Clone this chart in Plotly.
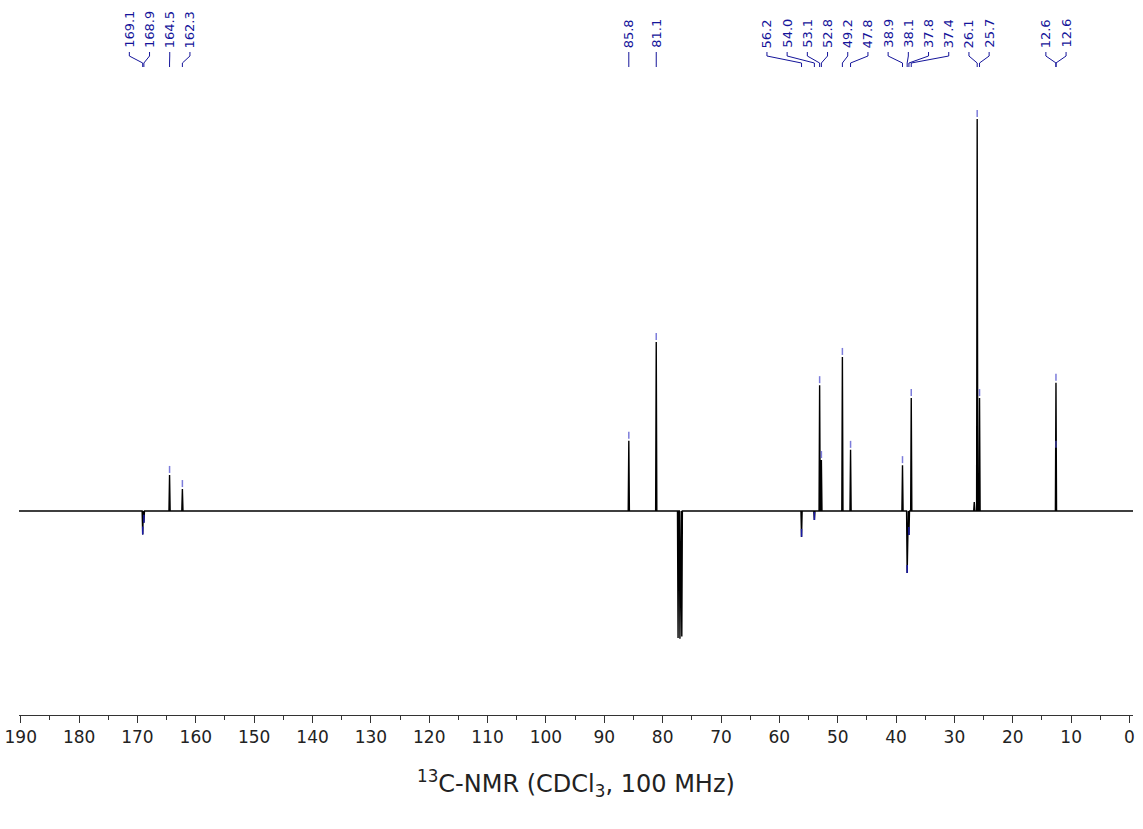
import plotly.graph_objects as go

# ---------------- data ----------------
peak_ppm = [169.1, 168.9, 164.5, 162.3, 85.8, 81.1, 56.2, 54.0, 53.1, 52.8,
            49.2, 47.8, 38.9, 38.1, 37.8, 37.4, 26.1, 25.7, 12.6, 12.6]
peak_int = [-6.0, -3.0, 9.2, 5.6, 17.9, 43.1, -6.6, -2.3, 32.1, 13.0,
            39.3, 15.6, 11.7, -15.8, -6.1, 28.8, 100.0, 28.8, 32.7, 15.6]
peak_labels = ["169.1", "168.9", "164.5", "162.3", "85.8", "81.1", "56.2", "54.0",
               "53.1", "52.8", "49.2", "47.8", "38.9", "38.1", "37.8", "37.4",
               "26.1", "25.7", "12.6", "12.6"]
solvent_ppm = [77.36, 77.04, 76.72]
solvent_int = [-32.4, -32.6, -32.0]
minor_ppm = [26.6]
minor_int = [2.3]
tick_values = list(range(0, 191, 10))
x_title = "<sup>13</sup>C-NMR (CDCl<sub>3</sub>, 100 MHz)"

# ---------------- geometry helpers ----------------
W, H = 1143, 829
ML, MR, MT, MB = 19, 10, 0, 114
PLOT_H = H - MT - MB
XR = [190.3, -0.6]
PX_PER_PPM = (W - ML - MR) / (XR[0] - XR[1])
PX_PER_INT = 3.92
BASE_PX = 511
YR = [-(PLOT_H - BASE_PX) / PX_PER_INT, BASE_PX / PX_PER_INT]


def py(px):  # pixel row -> paper y
    return (PLOT_H - px) / PLOT_H


# ---------------- spectrum trace ----------------
all_peaks = sorted(
    list(zip(peak_ppm, peak_int)) + list(zip(solvent_ppm, solvent_int)) + list(zip(minor_ppm, minor_int)),
    key=lambda t: -t[0])
hw = 0.1
xs, ys = [XR[0]], [0.0]
for p, h in all_peaks:
    xs += [p + hw, p, p - hw]
    ys += [0.0, h, 0.0]
xs.append(XR[1])
ys.append(0.0)

fig = go.Figure()
fig.add_trace(go.Scatter(x=xs, y=ys, mode="lines",
                         line=dict(color="black", width=1.4),
                         hoverinfo="skip", showlegend=False))

# peak markers
mx_pos, my_pos, mx_neg, my_neg = [], [], [], []
for p, h in zip(peak_ppm, peak_int):
    if h >= 0:
        mx_pos += [p, p, None]
        my_pos += [h + 2 / PX_PER_INT, h + 9 / PX_PER_INT, None]
    else:
        mx_neg += [p, p, None]
        my_neg += [h, h + 8 / PX_PER_INT, None]
fig.add_trace(go.Scatter(x=mx_pos, y=my_pos, mode="lines",
                         line=dict(color="rgba(80,80,205,0.75)", width=1.5),
                         hoverinfo="skip", showlegend=False))
fig.add_trace(go.Scatter(x=mx_neg, y=my_neg, mode="lines",
                         line=dict(color="#1a1aa8", width=1.5),
                         hoverinfo="skip", showlegend=False))

# ---------------- label layout (spread overlapping labels) ----------------
sep = 20.2 / PX_PER_PPM
order = sorted(range(len(peak_ppm)), key=lambda i: -peak_ppm[i])
groups = [[i] for i in order]


def gpos(g):
    c = sum(peak_ppm[i] for i in g) / len(g)
    n = len(g)
    return [c + ((n - 1) / 2 - k) * sep for k in range(n)]


changed = True
while changed:
    changed = False
    for k in range(len(groups) - 1):
        a, b = gpos(groups[k]), gpos(groups[k + 1])
        if a[-1] - b[0] < sep - 1e-9:
            groups[k] = groups[k] + groups[k + 1]
            del groups[k + 1]
            changed = True
            break

label_pos = {}
for g in groups:
    for i, pos in zip(g, gpos(g)):
        label_pos[i] = pos

LBL = "#14149a"
shapes = []
annotations = []
for i in range(len(peak_ppm)):
    lx = label_pos[i]
    px = peak_ppm[i]
    path = (f"M {lx},{py(52)} L {lx},{py(56)} L {px},{py(63)} L {px},{py(67)}")
    shapes.append(dict(type="path", xref="x", yref="paper", path=path,
                       line=dict(color=LBL, width=1)))
    annotations.append(dict(x=lx, y=py(50), xref="x", yref="paper",
                            text=peak_labels[i], textangle=-90, showarrow=False,
                            xanchor="center", yanchor="bottom",
                            font=dict(family="DejaVu Sans", size=13, color=LBL)))

annotations.append(dict(x=0.5, y=py(783 - MT), xref="paper", yref="paper",
                        text=x_title, showarrow=False, xanchor="center", yanchor="middle",
                        font=dict(family="DejaVu Sans", size=24, color="#222")))

fig.update_layout(
    width=W, height=H,
    margin=dict(l=ML, r=MR, t=MT, b=MB),
    paper_bgcolor="white", plot_bgcolor="white",
    shapes=shapes, annotations=annotations,
    xaxis=dict(range=XR, tickvals=tick_values, ticks="outside", ticklen=7,
               tickcolor="#333", tickwidth=1, showline=True, linecolor="#333",
               linewidth=1, showgrid=False, zeroline=False,
               tickfont=dict(family="DejaVu Sans", size=17, color="#222"),
               minor=dict(dtick=5, tick0=0, ticks="outside", ticklen=4,
                          tickcolor="#333", showgrid=False)),
    yaxis=dict(range=YR, visible=False, showgrid=False, zeroline=False),
)

fig.write_html("out.html", config={"displayModeBar": False},
               post_script="document.body.style.margin='0';document.body.style.padding='0';")
